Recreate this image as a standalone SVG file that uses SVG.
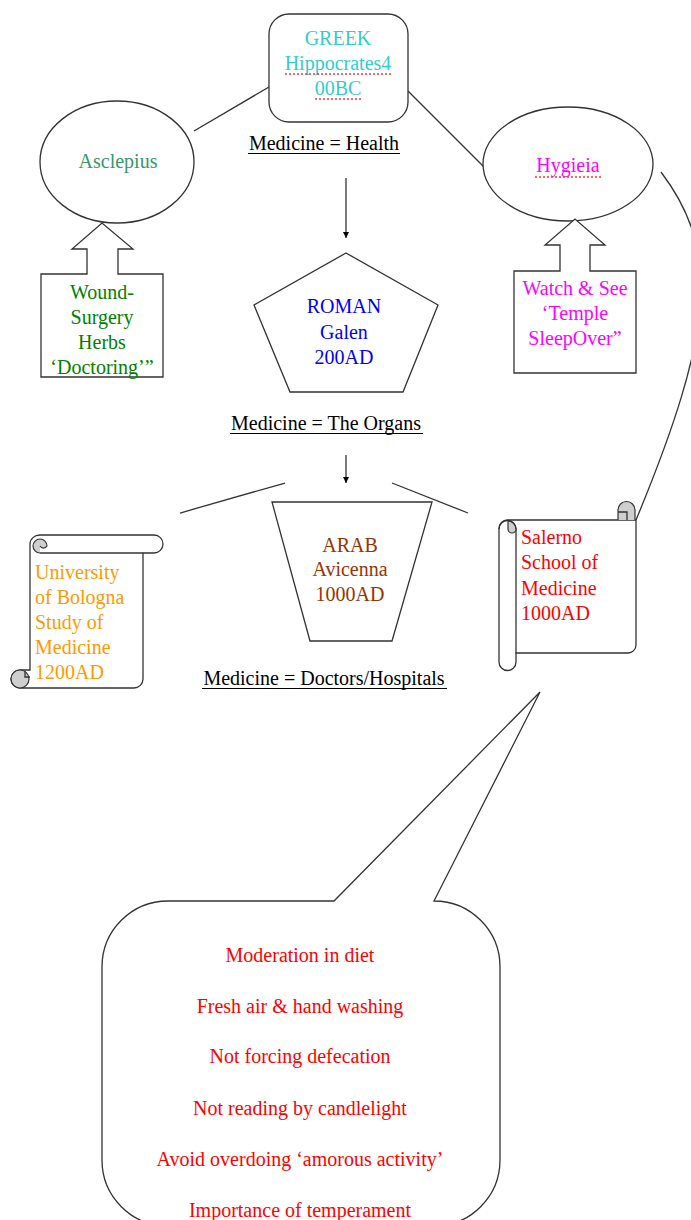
<svg xmlns="http://www.w3.org/2000/svg" width="691" height="1220" viewBox="0 0 691 1220">
<style>
text{font-family:"Liberation Serif","Times New Roman",serif;font-size:20px}
.c{text-anchor:middle}
.shape{fill:#fff;stroke:#333;stroke-width:1.3}
.ln{fill:none;stroke:#333;stroke-width:1.3}
.curl{fill:#cfcfcf;stroke:#333;stroke-width:1.2}
.ul{stroke:#000;stroke-width:1.2}
.sp{stroke:#f33;stroke-width:1.5;stroke-dasharray:2 2}
</style>
<defs>
<marker id="ah" viewBox="0 0 10 10" refX="10" refY="5" markerWidth="6" markerHeight="6" orient="auto" markerUnits="userSpaceOnUse">
<path d="M0,0 L10,5 L0,10 Z" fill="#000"/>
</marker>
</defs>
<rect width="691" height="1220" fill="#fff"/>

<g id="connectors">
<line class="ln" x1="269" y1="87" x2="194" y2="131"/>
<line class="ln" x1="408" y1="91" x2="484" y2="167"/>
<path class="ln" d="M661,172 C720,250 715,330 636,520"/>
<line class="ln" x1="346" y1="178" x2="346" y2="238" marker-end="url(#ah)"/>
<line class="ln" x1="346" y1="455" x2="346" y2="483" marker-end="url(#ah)"/>
<line class="ln" x1="180" y1="513" x2="285" y2="483"/>
<line class="ln" x1="392" y1="483" x2="468" y2="513"/>
</g>

<g id="greek">
<rect class="shape" x="269" y="14" width="139" height="108" rx="20"/>
<g fill="#33CCCC">
<text class="c" x="338" y="45">GREEK</text>
<text class="c" x="338" y="70">Hippocrates4</text>
<text class="c" x="338" y="95">00BC</text>
</g>
<line class="sp" x1="285" y1="74" x2="392" y2="74"/>
<line class="sp" x1="315" y1="99" x2="361" y2="99"/>
</g>

<g id="label-health">
<text class="c" x="324" y="150">Medicine = Health</text>
<line class="ul" x1="248" y1="153.5" x2="400" y2="153.5"/>
</g>

<g id="asclepius">
<ellipse class="shape" cx="117" cy="162" rx="77" ry="61"/>
<text class="c" x="118" y="168" fill="#339966">Asclepius</text>
</g>

<g id="wound">
<path class="shape" d="M41,274 H87 V249 H72 L102,223 L133,249 H118 V274 H163 V377 H41 Z"/>
<g fill="#008000">
<text class="c" x="102" y="299">Wound-</text>
<text class="c" x="102" y="324">Surgery</text>
<text class="c" x="102" y="349">Herbs</text>
<text class="c" x="102" y="374">‘Doctoring’”</text>
</g>
</g>

<g id="hygieia">
<ellipse class="shape" cx="568" cy="164" rx="85" ry="57"/>
<text class="c" x="568" y="172" fill="#FF00FF">Hygieia</text>
<line class="sp" x1="535" y1="177" x2="602" y2="177"/>
</g>

<g id="watch">
<path class="shape" d="M514,271 H560 V245 H545 L575,219 L605,245 H590 V271 H636 V373 H514 Z"/>
<g fill="#FF00FF">
<text class="c" x="575" y="295">Watch &amp; See</text>
<text class="c" x="575" y="320">‘Temple</text>
<text class="c" x="575" y="345">SleepOver”</text>
</g>
</g>

<g id="roman">
<polygon class="shape" points="346,253 438,305 403,392 290,392 254,305"/>
<g fill="#0000FF">
<text class="c" x="344" y="313">ROMAN</text>
<text class="c" x="344" y="339">Galen</text>
<text class="c" x="344" y="364">200AD</text>
</g>
</g>

<g id="label-organs">
<text class="c" x="326" y="430">Medicine = The Organs</text>
<line class="ul" x1="230" y1="433.5" x2="423" y2="433.5"/>
</g>

<g id="arab">
<polygon class="shape" points="272,502 432,502 392,641 310,641"/>
<g fill="#993300">
<text class="c" x="350" y="552">ARAB</text>
<text class="c" x="350" y="576">Avicenna</text>
<text class="c" x="350" y="601">1000AD</text>
</g>
</g>

<g id="label-doctors">
<text class="c" x="324" y="685">Medicine = Doctors/Hospitals</text>
<line class="ul" x1="202" y1="688.5" x2="447" y2="688.5"/>
</g>

<g id="bologna">
<path class="shape" d="M40,535 H154 A9,9 0 0 1 154,553 H143 V679 A9,9 0 0 1 134,688 H20 A9,9 0 0 1 20,670 H30 V544 A10,9 0 0 1 40,535 Z"/>
<line class="ln" x1="40" y1="553" x2="143" y2="553"/>
<path class="curl" d="M40,553 A7,7 0 0 1 33,546 A7,7 0 0 1 47,546 A4,4 0 0 1 40,546"/>
<circle class="curl" cx="20" cy="679" r="9"/>
<path class="ln" d="M25,671 V677 H30"/>
<g fill="#FF9900">
<text x="35" y="579">University</text>
<text x="35" y="604">of Bologna</text>
<text x="35" y="629">Study of</text>
<text x="35" y="654">Medicine</text>
<text x="35" y="679">1200AD</text>
</g>
</g>

<g id="salerno">
<path class="shape" d="M508,520 H636 V645 A8,8 0 0 1 628,653 H516 V662 A8.5,8.5 0 0 1 499,662 V529 A8.5,8.5 0 0 1 508,520 Z"/>
<line class="ln" x1="516" y1="529" x2="516" y2="653"/>
<path class="curl" d="M508,521 A8,8 0 0 1 516,529 A4,4 0 0 1 508,529 Z"/>
<path class="ln" d="M499,529 A8.5,8.5 0 0 1 516,529"/>
<path class="curl" d="M618,520 V510 A8.5,8.5 0 1 1 635,510 V520"/>
<path class="ln" d="M618,512 H627 V520"/>
<g fill="#FF0000">
<text x="521" y="544">Salerno</text>
<text x="521" y="569">School of</text>
<text x="521" y="595">Medicine</text>
<text x="521" y="620">1000AD</text>
</g>
</g>

<g id="callout">
<path class="shape" d="M168,901 H334 L540,692 L434,901 A66,66 0 0 1 500,967 V1160 A66,66 0 0 1 434,1226 H168 A66,66 0 0 1 102,1160 V967 A66,66 0 0 1 168,901 Z"/>
<g fill="#FF0000">
<text class="c" x="300" y="962">Moderation in diet</text>
<text class="c" x="300" y="1013">Fresh air &amp; hand washing</text>
<text class="c" x="300" y="1063">Not forcing defecation</text>
<text class="c" x="300" y="1115">Not reading by candlelight</text>
<text class="c" x="300" y="1166">Avoid overdoing ‘amorous activity’</text>
<text class="c" x="300" y="1217">Importance of temperament</text>
</g>
</g>
</svg>
